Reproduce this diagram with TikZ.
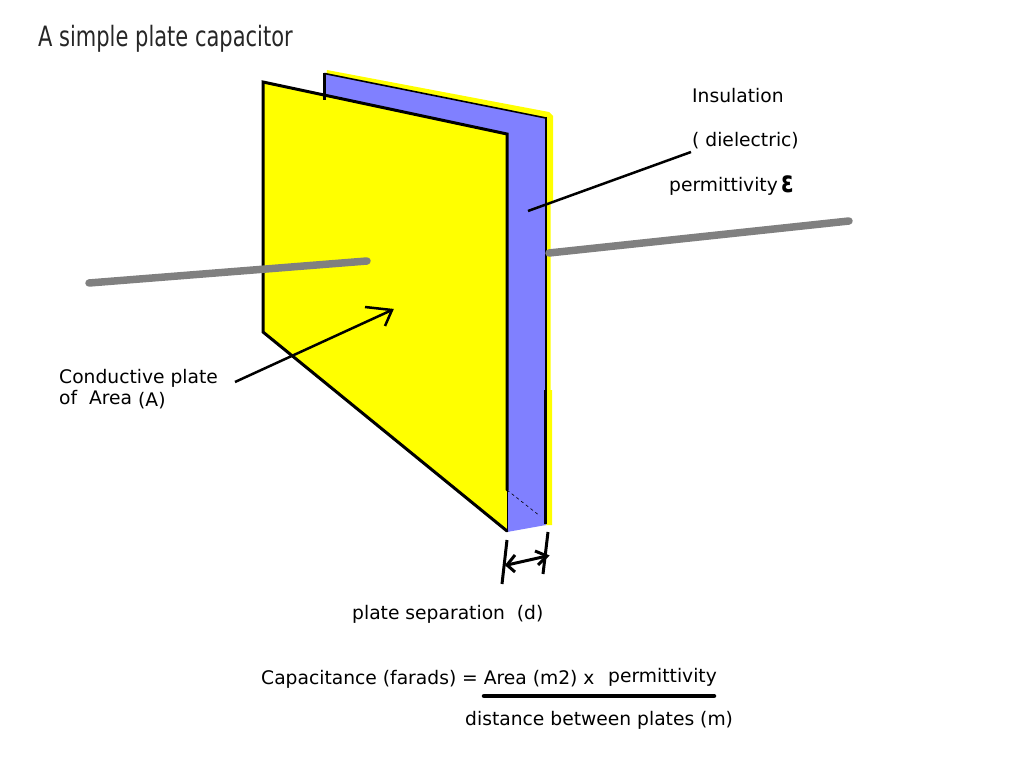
\documentclass[tikz,border=0pt]{standalone}
\usepackage{fontspec}
\setmainfont{DejaVu Sans}
\definecolor{plateyellow}{HTML}{FFFF00}
\definecolor{gapblue}{HTML}{8080FF}
\definecolor{rodgray}{HTML}{808080}
\tikzset{
label/.style={anchor=base west, inner sep=0pt, font=\fontsize{18.7}{21}\selectfont},
edgeline/.style={line width=3pt, line cap=round},
pointer/.style={line width=2.5pt},
rod/.style={rodgray, line width=7.5pt, line cap=round}
}

\begin{document}
\begin{tikzpicture}[x=1pt, y=-1pt]
\useasboundingbox (0,0) rectangle (1021,778);
\coordinate (insulA) at (691,152);
\coordinate (insulB) at (528,211);
\coordinate (areaA) at (235,382);
\coordinate (areaB) at (392,310);
\coordinate (headA) at (365,307);
\coordinate (headB) at (385,326);
\coordinate (sepA) at (507,565);
\coordinate (sepB) at (547,556);
\coordinate (fracA) at (484,696);
\coordinate (fracB) at (714,696);
\fill[plateyellow] (327,70) -- (549,112) -- (553,116) -- (553,203) -- (550.5,203) -- (550.5,390) -- (552,390) -- (552,525) -- (540,525) -- (540,118) -- (326,76) -- cycle;
\fill[gapblue] (325,74) -- (546,118) -- (546,525) -- (507,532) -- (507,134) -- (325,100) -- cycle;
\fill[plateyellow] (263,82) -- (507,134) -- (507,531) -- (263,332) -- cycle;
\draw[line width=2.5pt] (324.5,100) -- (324.5,73);
\draw[line width=1.6pt] (324.5,73.5) -- (546,118);
\draw[line width=2.4pt] (546,117) -- (546,390);
\draw[line width=3pt] (545.7,390) -- (545.7,524);
\draw[edgeline] (507,490) -- (507,134) -- (263,82) -- (263,332) -- (507,531);
\draw[line width=.7pt] (507,490) -- (507,531);
\draw[line width=.6pt, dashed] (507,490) -- (540,516);
\draw[rod] (89,283) -- (367,261);
\draw[rod] (549,253) -- (849,221);
\draw[pointer] (insulA) -- (insulB);
\draw[pointer] (areaA) -- (areaB);
\draw[pointer] (headA) -- (areaB) -- (headB);
\draw[pointer, line width=3pt] (507,540) -- (502,584);
\draw[pointer, line width=3pt] (548,532) -- (543,574);
\draw[pointer, line width=3pt] (sepA) -- (sepB);
\draw[pointer, line width=3pt] (515,555) -- (sepA) -- (515,572);
\draw[pointer, line width=3pt] (535,551) -- (sepB) -- (538,565);
\draw[line width=4.5pt, line cap=round] (fracA) -- (fracB);
\node[label, xscale=.75, text=black!85, font=\fontsize{28}{30}\selectfont] (title) at (38,47) {A simple plate capacitor};
\node[label] (insul) at (692,103) {Insulation};
\node[label] (dielectric) at (692,147) {( dielectric)};
\node[label] (perm) at (669,192) {permittivity};
\node[label, xscale=.75, font=\fontsize{30}{32}\bfseries\selectfont] (epsilon) at (781,193) {ε};
\node[label] (conductive) at (59,383) {Conductive plate};
\node[label] (ofarea) at (59,404) {of\ \ Area};
\node[label] (areaunit) at (138,406) {(A)};
\node[label] (separation) at (352,619) {plate separation\ \ (d)};
\node[label] (capacitance) at (261,684) {Capacitance (farads) = Area (m2) x};
\node[label] (numerator) at (608,682) {permittivity};
\node[label] (denominator) at (465,725) {distance between plates (m)};
\end{tikzpicture}
\end{document}
